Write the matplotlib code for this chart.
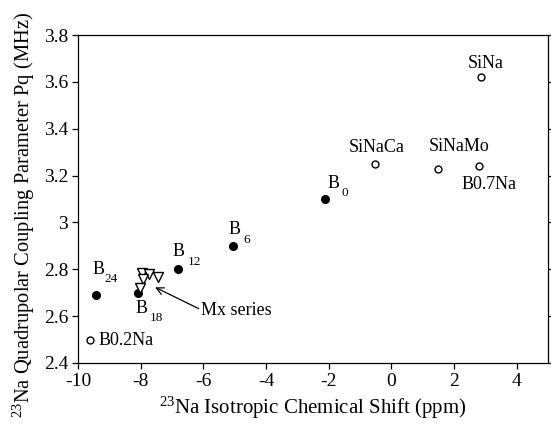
import matplotlib
matplotlib.use("Agg")
import matplotlib.pyplot as plt

plt.rcParams['font.family'] = ['Liberation Serif', 'DejaVu Serif']
plt.rcParams['mathtext.fontset'] = 'custom'
plt.rcParams['mathtext.rm'] = 'Liberation Serif'
plt.rcParams['mathtext.it'] = 'Liberation Serif:italic'
plt.rcParams['axes.unicode_minus'] = False

# Filled circles (B series)
b_labels = ["24", "18", "12", "6", "0"]
b_x = [-9.43, -8.10, -6.82, -5.04, -2.12]
b_y = [2.69, 2.70, 2.80, 2.90, 3.10]

# Open circles
o_labels = ["SiNa", "SiNaCa", "SiNaMo", "B0.7Na", "B0.2Na"]
o_x = [2.87, -0.52, 1.49, 2.79, -9.62]
o_y = [3.62, 3.25, 3.23, 3.24, 2.50]

# Mx series (triangles)
mx_x = [-7.97, -7.73, -7.44, -7.92, -8.02]
mx_y = [2.786, 2.779, 2.766, 2.757, 2.721]

x_ticks = [-10, -8, -6, -4, -2, 0, 2, 4]
y_ticks = [2.4, 2.6, 2.8, 3.0, 3.2, 3.4, 3.6, 3.8]
y_ticklabels = ["2.4", "2.6", "2.8", "3", "3.2", "3.4", "3.6", "3.8"]

fig = plt.figure(figsize=(5.51, 4.25), dpi=100)
ax = fig.add_axes([0.1416, 0.1459, 0.9946 - 0.1416, 0.9176 - 0.1459])

ax.plot(b_x, b_y, 'o', color='black', markersize=5.5, linestyle='none')
ax.plot(o_x, o_y, 'o', markerfacecolor='white', markeredgecolor='black',
        markeredgewidth=1.0, markersize=5, linestyle='none')
ax.plot(mx_x, mx_y, 'v', markerfacecolor='white', markeredgecolor='black',
        markeredgewidth=1.0, markersize=7.5, linestyle='none')

fs = 13
# B labels: "B" and subscript
b_main_pos = [(-9.33, 2.797), (-7.97, 2.632), (-6.80, 2.875), (-5.0, 2.968), (-1.86, 3.167)]
b_sub_pos = [(-8.93, 2.757), (-7.50, 2.591), (-6.27, 2.832), (-4.62, 2.925), (-1.50, 3.124)]
for lab, (mx, my), (sx, sy) in zip(b_labels, b_main_pos, b_sub_pos):
    ax.text(mx, my, "B", fontsize=fs, ha='center', va='center')
    ax.text(sx, sy, lab, fontsize=9.5, ha='center', va='center')

o_text_pos = [(3.0, 3.679, 'center'), (-0.48, 3.32, 'center'), (2.15, 3.326, 'center'),
              (3.12, 3.16, 'center'), (-9.35, 2.495, 'left')]
for lab, (tx, ty, ha) in zip(o_labels, o_text_pos):
    ax.text(tx, ty, lab, fontsize=fs, ha=ha, va='center')

ax.annotate("Mx series", xy=(-7.54, 2.723), xytext=(-6.06, 2.622),
            fontsize=fs, ha='left', va='center',
            arrowprops=dict(arrowstyle='->', color='black', lw=0.9,
                            shrinkA=0, shrinkB=0,
                            relpos=(-0.03, 0.62)))

ax.set_xlim(-10, 5)
ax.set_ylim(2.4, 3.8)
ax.set_xticks(x_ticks)
ax.set_yticks(y_ticks)
ax.set_yticklabels(y_ticklabels)
ax.tick_params(axis='both', direction='out', length=4, width=0.9, labelsize=14,
               colors='black', pad=3)
ax.tick_params(axis='y', right=True, labelright=False)
for s in ax.spines.values():
    s.set_linewidth(0.9)

ax.set_xlabel(r"$^{23}$Na Isotropic Chemical Shift (ppm)", fontsize=15, labelpad=4)
ax.set_ylabel(r"$^{23}$Na Quadrupolar Coupling Parameter Pq (MHz)", fontsize=14.8)
ax.yaxis.set_label_coords(-0.088, 0.452)

fig.savefig("out.png", dpi=100)
